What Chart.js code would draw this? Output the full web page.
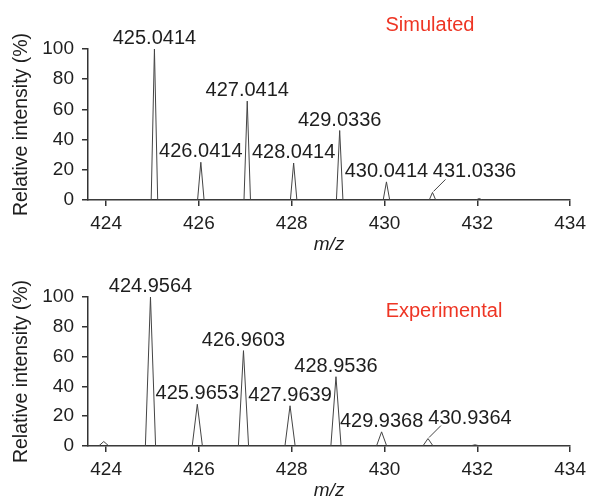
<!DOCTYPE html>
<html>
<head>
<meta charset="utf-8">
<script src="https://cdn.jsdelivr.net/npm/chart.js@4.4.1/dist/chart.umd.min.js"></script>
<style>
  html, body { margin: 0; padding: 0; background: #fff; }
  .panel { position: relative; width: 592px; }
  canvas { display: block; }
</style>
</head>
<body>
<div class="panel" style="height:258px"><canvas id="sim"></canvas></div>
<div class="panel" style="height:243px"><canvas id="exp"></canvas></div>
<script>
// axis ticks
const xTicks = [424, 426, 428, 430, 432, 434];
const yTicks = [0, 20, 40, 60, 80, 100];

// simulated isotope pattern
const simMz = [425.0414, 426.0414, 427.0414, 428.0414, 429.0336, 430.0414, 431.0336, 432.04];
const simIntensity = [100, 25, 65.5, 24.5, 46, 12, 5, 1];
const simLabels = ['425.0414', '426.0414', '427.0414', '428.0414', '429.0336', '430.0414', '431.0336', ''];

// experimental spectrum
const expMz = [423.95, 424.9564, 425.9653, 426.9603, 427.9639, 428.9536, 429.9368, 430.9364, 431.95];
const expIntensity = [3, 100, 28, 64, 27, 46.5, 9.5, 5, 0.8];
const expLabels = ['', '424.9564', '425.9653', '426.9603', '427.9639', '428.9536', '429.9368', '430.9364', ''];

const family = '"Liberation Sans", Arial, sans-serif';
Chart.defaults.font.family = family;

// each peak drawn as a narrow profile: baseline - apex - baseline
function peakLine(mz, values, halfWidth) {
  const pts = [{x: 423.61, y: 0}];
  mz.forEach((m, i) => {
    pts.push({x: m - halfWidth, y: 0}, {x: m, y: values[i]}, {x: m + halfWidth, y: 0});
  });
  pts.push({x: 434, y: 0});
  return pts;
}

const peakLabels = {
  id: 'peakLabels',
  afterDatasetsDraw(chart, args, opts) {
    const {ctx, scales: {x, y}} = chart;
    ctx.save();
    ctx.font = '20px ' + family;
    ctx.fillStyle = '#1e1e1e';
    ctx.textAlign = 'center';
    ctx.textBaseline = 'alphabetic';
    opts.mz.forEach((m, i) => {
      const text = opts.texts[i];
      if (!text) return;
      const px = x.getPixelForValue(m);
      const py = y.getPixelForValue(opts.values[i]);
      if (i === opts.leader) {
        ctx.strokeStyle = '#444';
        ctx.lineWidth = 1;
        ctx.beginPath();
        ctx.moveTo(px + 1, py - 1);
        ctx.lineTo(px + 13, py - 13);
        ctx.stroke();
        ctx.fillText(text, px + 42, py - 15);
      } else {
        ctx.fillText(text, px, py - 5);
      }
    });
    ctx.fillStyle = '#ee3524';
    ctx.font = '20px ' + family;
    ctx.fillText(opts.title, opts.titleX, opts.titleY);
    ctx.restore();
  }
};

function makePanel(id, mz, values, labels, halfWidth, extra) {
  const axisStyle = {
    grid: {drawOnChartArea: false, drawTicks: true, tickLength: 6, color: '#333', lineWidth: 1.5},
    border: {display: true, color: '#333', width: 1.5}
  };
  return new Chart(document.getElementById(id), {
    type: 'line',
    data: {
      datasets: [{
        data: peakLine(mz, values, halfWidth),
        borderColor: '#444',
        borderWidth: 1,
        pointRadius: 0,
        fill: false,
        tension: 0
      }]
    },
    options: {
      responsive: true,
      maintainAspectRatio: false,
      animation: false,
      layout: {padding: {top: extra.top, right: 19, left: 0, bottom: 0}},
      scales: {
        x: {
          type: 'linear',
          min: 423.61,
          max: 434,
          afterBuildTicks: s => { s.ticks = xTicks.map(v => ({value: v})); },
          afterFit: s => { s.height = extra.axisH; },
          ...axisStyle,
          ticks: {color: '#1e1e1e', font: {size: 19}, padding: 6, maxRotation: 0, autoSkip: false},
          title: {display: true, text: 'm/z', color: '#1e1e1e',
                  font: {size: 19, style: 'italic'}, padding: {top: 0, bottom: extra.titlePad}}
        },
        y: {
          min: 0,
          max: 100,
          afterBuildTicks: s => { s.ticks = yTicks.map(v => ({value: v})); },
          afterFit: s => { s.width = 88; },
          ...axisStyle,
          ticks: {color: '#1e1e1e', font: {size: 19}, padding: 8},
          title: {display: true, text: 'Relative intensity (%)', color: '#1e1e1e',
                  font: {size: 19.5}, padding: {top: 10, bottom: 0}}
        }
      },
      plugins: {
        legend: {display: false},
        tooltip: {enabled: false},
        peakLabels: {
          mz: mz, values: values, texts: labels, leader: extra.leader,
          title: extra.title, titleX: extra.titleX, titleY: extra.titleY
        }
      }
    },
    plugins: [peakLabels]
  });
}

makePanel('sim', simMz, simIntensity, simLabels, 0.07,
  {top: 49, axisH: 58, titlePad: 2, leader: 6, title: 'Simulated', titleX: 430, titleY: 31});
makePanel('exp', expMz, expIntensity, expLabels, 0.11,
  {top: 39, axisH: 55, titlePad: -1, leader: 7, title: 'Experimental', titleX: 444, titleY: 59});
</script>
</body>
</html>
